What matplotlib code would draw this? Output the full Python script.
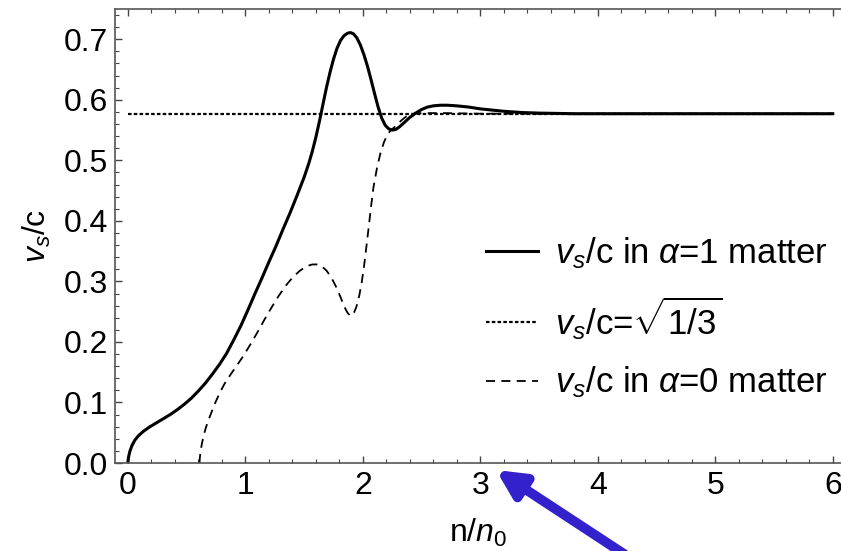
import matplotlib
matplotlib.use("Agg")
import matplotlib.pyplot as plt
from matplotlib.ticker import MultipleLocator

plt.rcParams["font.family"] = ["Liberation Sans", "DejaVu Sans"]
plt.rcParams["mathtext.fontset"] = "custom"
plt.rcParams["mathtext.rm"] = "Liberation Sans"
plt.rcParams["mathtext.it"] = "Liberation Sans:italic"

# sound speed in alpha=1 matter (solid)
n_alpha1 = [0, 0.002, 0.008, 0.018, 0.035, 0.06, 0.09, 0.13, 0.18, 0.24, 0.3,
            0.36, 0.42, 0.48, 0.54, 0.6, 0.66, 0.72, 0.78, 0.84, 0.9, 0.96,
            1.02, 1.08, 1.14, 1.2, 1.26, 1.32, 1.38, 1.44, 1.5, 1.54, 1.57,
            1.6, 1.63, 1.66, 1.69, 1.72, 1.75, 1.78, 1.81, 1.84, 1.87, 1.895,
            1.92, 1.95, 1.98, 2.01, 2.04, 2.07, 2.1, 2.13, 2.16, 2.19, 2.22,
            2.25, 2.28, 2.31, 2.35, 2.4, 2.45, 2.5, 2.55, 2.6, 2.66, 2.72, 2.8,
            2.9, 3.0, 3.1, 3.2, 3.35, 3.5, 3.8, 6.0]
vs_alpha1 = [0, 0.005, 0.012, 0.02, 0.029, 0.038, 0.045, 0.052, 0.059, 0.066,
             0.073, 0.08, 0.088, 0.097, 0.107, 0.119, 0.132, 0.147, 0.163,
             0.181, 0.203, 0.226, 0.252, 0.279, 0.305, 0.332, 0.358, 0.386,
             0.413, 0.442, 0.472, 0.495, 0.515, 0.538, 0.564, 0.592, 0.62,
             0.645, 0.667, 0.685, 0.698, 0.706, 0.71, 0.711, 0.709, 0.702,
             0.69, 0.674, 0.655, 0.633, 0.61, 0.588, 0.57, 0.558, 0.552, 0.55,
             0.551, 0.555, 0.562, 0.571, 0.578, 0.584, 0.588, 0.59, 0.591,
             0.591, 0.59, 0.588, 0.585, 0.583, 0.581, 0.579, 0.578, 0.577,
             0.577]

# sound speed in alpha=0 matter (dashed)
n_alpha0 = [0.61, 0.612, 0.618, 0.628, 0.642, 0.66, 0.68, 0.71, 0.74, 0.78,
            0.82, 0.87, 0.92, 0.98, 1.04, 1.1, 1.16, 1.22, 1.28, 1.34, 1.4,
            1.46, 1.52, 1.57, 1.61, 1.65, 1.69, 1.73, 1.77, 1.81, 1.84, 1.87,
            1.895, 1.92, 1.945, 1.97, 1.99, 2.01, 2.03, 2.05, 2.07, 2.09, 2.12,
            2.15, 2.18, 2.21, 2.24, 2.27, 2.3, 2.34, 2.38, 2.43, 2.5, 2.7, 3.0,
            6.0]
vs_alpha0 = [0, 0.008, 0.018, 0.03, 0.043, 0.056, 0.068, 0.083, 0.098, 0.115,
             0.13, 0.145, 0.159, 0.176, 0.195, 0.215, 0.236, 0.256, 0.275,
             0.292, 0.306, 0.317, 0.325, 0.328, 0.328, 0.325, 0.318, 0.307,
             0.292, 0.274, 0.259, 0.248, 0.243, 0.246, 0.258, 0.277, 0.298,
             0.325, 0.357, 0.39, 0.424, 0.455, 0.487, 0.512, 0.53, 0.543, 0.55,
             0.555, 0.561, 0.568, 0.574, 0.577, 0.578, 0.578, 0.577, 0.577]

# conformal limit sqrt(1/3)
n_conf = [0, 6.0]
vs_conf = [0.577, 0.577]

fig = plt.figure(figsize=(8.41, 5.51), dpi=100)
ax = fig.add_axes([0.1367, 0.1597, 0.8633, 0.824])

ax.plot(n_alpha1, vs_alpha1, color="black", lw=2.2,
        label=r"$v_s$/c in $\alpha$=1 matter")
ax.plot(n_conf, vs_conf, color="black", lw=1.6, linestyle=(0, (1.6, 1.0)),
        label=r"$v_s$/c=$\sqrt{1/3}$")
ax.plot(n_alpha0, vs_alpha0, color="black", lw=1.3, linestyle=(0, (5, 3.5)),
        label=r"$v_s$/c in $\alpha$=0 matter")

ax.set_xlim(-0.11, 6.07)
ax.set_ylim(0, 0.75)
ax.xaxis.set_major_locator(MultipleLocator(1))
ax.xaxis.set_minor_locator(MultipleLocator(0.2))
ax.yaxis.set_major_locator(MultipleLocator(0.1))
ax.yaxis.set_minor_locator(MultipleLocator(0.02))
ax.yaxis.set_major_formatter(plt.FormatStrFormatter("%.1f"))
ax.tick_params(which="both", direction="in", top=True, right=False,
               labelsize=23, color="#444444")
ax.tick_params(which="major", length=5, width=1)
ax.tick_params(which="minor", length=3, width=0.8)
ax.tick_params(axis="x", pad=6)
ax.tick_params(axis="y", pad=5)
for side in ["left", "bottom", "top"]:
    ax.spines[side].set_color("#555555")
    ax.spines[side].set_linewidth(1.2)
ax.spines["right"].set_visible(False)

ax.set_xlabel(r"n/$n_0$", fontsize=23, labelpad=11)
ax.set_ylabel(r"$v_s$/c", fontsize=23, labelpad=8)

ax.legend(loc="upper right", bbox_to_anchor=(1.025, 0.57), frameon=False,
          fontsize=25, handlelength=1.5, handletextpad=0.5, labelspacing=0.66)

ax.annotate("", xy=(496, 81), xycoords="figure pixels",
            xytext=(650, -20), textcoords="figure pixels",
            arrowprops=dict(arrowstyle="-|>", color="#3322cc", lw=7,
                            mutation_scale=40, shrinkA=0, shrinkB=0),
            annotation_clip=False)

fig.savefig("out.png", dpi=100)
